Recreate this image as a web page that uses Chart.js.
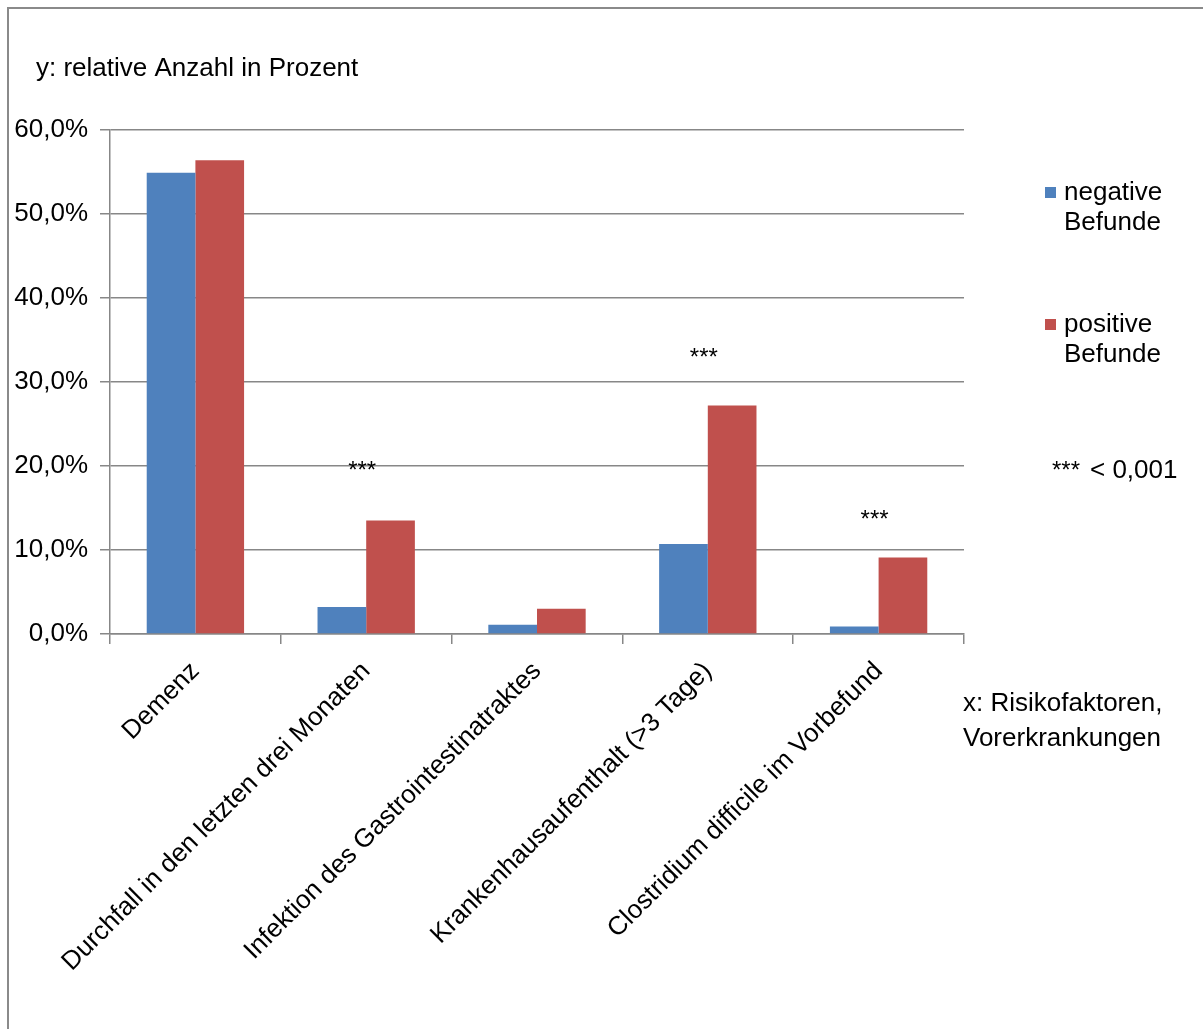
<!DOCTYPE html>
<html>
<head>
<meta charset="utf-8">
<script src="https://cdn.jsdelivr.net/npm/chart.js@4/dist/chart.umd.min.js"></script>
<style>
  html, body { margin: 0; padding: 0; background: #fff; }
  #wrap { width: 1203px; height: 1029px; position: relative; }
</style>
</head>
<body>
<div id="wrap"><canvas id="riskChart"></canvas></div>
<script>
const categories = [
  "Demenz",
  "Durchfall in den letzten drei Monaten",
  "Infektion des Gastrointestinatraktes",
  "Krankenhausaufenthalt (>3 Tage)",
  "Clostridium difficile im Vorbefund"
];
const negativeValues = [54.9, 3.2, 1.1, 10.7, 0.9];
const positiveValues = [56.4, 13.5, 3.0, 27.2, 9.1];
// where the significance stars sit (in % on the y axis), null = none
const starLevels = [null, 20.0, null, 33.5, 14.2];
const yTicks = [0, 10, 20, 30, 40, 50, 60];

const FONT = "'Liberation Sans', Arial, sans-serif";
const GRID = "#878787";

const ctx = document.getElementById("riskChart").getContext("2d");

const extras = {
  id: "extras",
  beforeDraw(chart) {
    const c = chart.ctx;
    c.save();
    // outer frame (left and top only visible)
    c.strokeStyle = "#8a8a8a";
    c.lineWidth = 2;
    c.beginPath();
    c.moveTo(8, 1029);
    c.lineTo(8, 8);
    c.lineTo(1203, 8);
    c.stroke();
    c.restore();
  },
  afterDraw(chart) {
    const c = chart.ctx;
    const x = chart.scales.x;
    const y = chart.scales.y;
    c.save();
    c.fillStyle = "#000";

    // stars above the groups (asterisk glyph sits high in the em box)
    c.font = `24px ${FONT}`;
    c.textAlign = "center";
    c.textBaseline = "alphabetic";
    starLevels.forEach((v, i) => {
      if (v === null) return;
      c.fillText("***", x.getPixelForValue(i) - 4, y.getPixelForValue(v) + 12);
    });

    c.textBaseline = "middle";
    c.textAlign = "left";
    c.font = `26px ${FONT}`;
    c.fillText("y: relative Anzahl in Prozent", 36, 69);
    c.fillText("x: Risikofaktoren,", 963, 704);
    c.fillText("Vorerkrankungen", 963, 739);

    // legend
    const items = [
      { color: chart.data.datasets[0].backgroundColor, lines: ["negative", "Befunde"], top: 193 },
      { color: chart.data.datasets[1].backgroundColor, lines: ["positive", "Befunde"], top: 325 }
    ];
    items.forEach(it => {
      c.fillStyle = it.color;
      c.fillRect(1045, it.top - 6, 11, 11);
      c.fillStyle = "#000";
      c.fillText(it.lines[0], 1064, it.top);
      c.fillText(it.lines[1], 1064, it.top + 30);
    });
    c.font = `24px ${FONT}`;
    c.textBaseline = "alphabetic";
    c.fillText("***", 1052, 478);
    c.font = `26px ${FONT}`;
    c.textBaseline = "middle";
    c.fillText("< 0,001", 1090, 471);
    c.restore();
  }
};

new Chart(ctx, {
  type: "bar",
  data: {
    labels: categories,
    datasets: [
      {
        label: "negative Befunde",
        data: negativeValues,
        backgroundColor: "#4F81BD",
        borderWidth: 0
      },
      {
        label: "positive Befunde",
        data: positiveValues,
        backgroundColor: "#C0504D",
        borderWidth: 0
      }
    ]
  },
  options: {
    responsive: true,
    maintainAspectRatio: false,
    animation: false,
    layout: { padding: { left: 10, top: 130, right: 239, bottom: 0 } },
    categoryPercentage: 0.57,
    barPercentage: 1.0,
    plugins: {
      legend: { display: false },
      tooltip: { enabled: false }
    },
    scales: {
      x: {
        offset: true,
        grid: {
          offset: true,
          drawOnChartArea: false,
          drawTicks: true,
          tickLength: 10,
          color: GRID,
          lineWidth: 1.5
        },
        border: { color: GRID, width: 1.5 },
        ticks: {
          color: "#000",
          font: { family: FONT, size: 26 },
          maxRotation: 45,
          minRotation: 45,
          autoSkip: false,
          padding: 12
        },
        afterFit(scale) { scale.height = 1029 - 634; }
      },
      y: {
        min: 0,
        max: 60,
        afterBuildTicks(scale) { scale.ticks = yTicks.map(v => ({ value: v })); },
        grid: {
          color: GRID,
          lineWidth: 1.5,
          tickLength: 10
        },
        border: { color: GRID, width: 1.5 },
        ticks: {
          color: "#000",
          font: { family: FONT, size: 26 },
          padding: 12,
          callback: v => v.toFixed(1).replace(".", ",") + "%"
        },
        afterFit(scale) { scale.width = 100; }
      }
    }
  },
  plugins: [extras]
});
</script>
</body>
</html>
